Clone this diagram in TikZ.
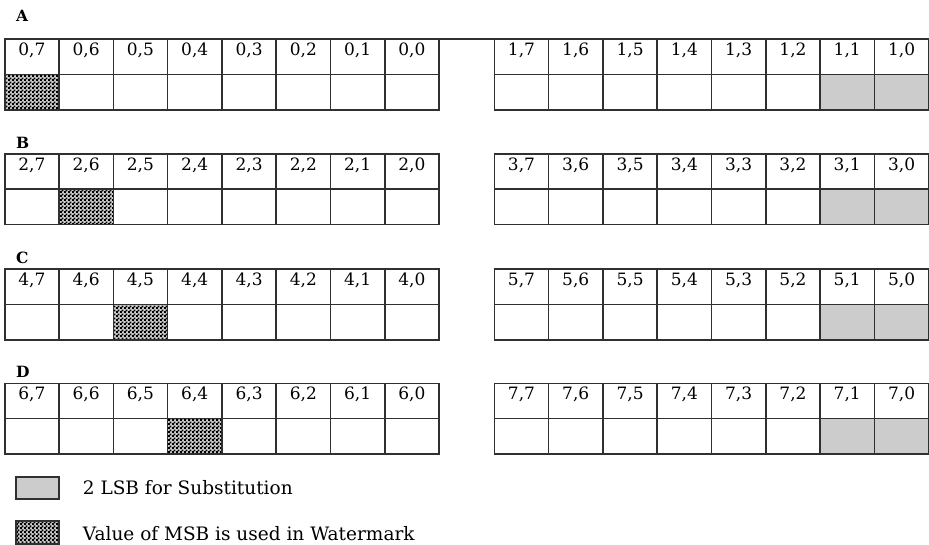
\documentclass[tikz,border=0pt]{standalone}
\usepackage{fontspec}
\setmainfont{DejaVu Serif}
\usetikzlibrary{patterns}
\pgfdeclarepatternformonly{finechecker}{\pgfpointorigin}{\pgfqpoint{4pt}{4pt}}{\pgfqpoint{4pt}{4pt}}{%
  \pgfpathrectangle{\pgfpointorigin}{\pgfqpoint{2.2pt}{2.2pt}}%
  \pgfpathrectangle{\pgfqpoint{2pt}{2pt}}{\pgfqpoint{2.2pt}{2.2pt}}%
  \pgfusepath{fill}}
\definecolor{lsbgray}{HTML}{CCCCCC}
\definecolor{gridline}{HTML}{303030}
\tikzset{
  cell/.style={draw=gridline, line width=1.6pt, minimum width=54.3pt, minimum height=35.3pt,
    inner sep=0pt, outer sep=0pt, anchor=north west},
  lsb/.style={fill=lsbgray},
  msb/.style={preaction={fill=black!20}, pattern=finechecker, pattern color=black},
  bitnum/.style={font=\fontsize{17}{17}\selectfont, anchor=base, inner sep=0pt},
  rowlabel/.style={font=\bfseries\fontsize{15.5}{15.5}\selectfont, anchor=base west, inner sep=0pt},
  legendtext/.style={font=\fontsize{18.5}{18.5}\selectfont, anchor=base west, inner sep=0pt},
  legendbox/.style={draw=gridline, line width=1.6pt, minimum width=43pt, minimum height=22.5pt,
    inner sep=0pt, outer sep=0pt, anchor=north west}
}
\begin{document}
\begin{tikzpicture}[x=1pt,y=-1pt]
\useasboundingbox (0,0) rectangle (929,545);
% rows: index r, top y, row label
\foreach \r/\ty/\lab/\ly in {0/39.3/A/22, 1/154/B/148.3, 2/269.3/C/264, 3/383.3/D/377.7} {
  \node[rowlabel] (lab\r) at (16,\ly) {\lab};
  \pgfmathtruncatemacro{\lr}{2*\r}
  \pgfmathtruncatemacro{\rr}{2*\r+1}
  \foreach \k in {0,...,7} {
    \pgfmathtruncatemacro{\bit}{7-\k}
    % left block
    \node[cell] (tL\r\k) at ({4.7+54.3*\k},\ty) {};
    \ifnum\k=\r
      \node[cell,msb] (bL\r\k) at ({4.7+54.3*\k},\ty+35.3) {};
    \else
      \node[cell] (bL\r\k) at ({4.7+54.3*\k},\ty+35.3) {};
    \fi
    \node[bitnum] (nL\r\k) at ([yshift=-16.6pt]tL\r\k.north) {\lr,\bit};
    % right block
    \node[cell] (tR\r\k) at ({494.3+54.3*\k},\ty) {};
    \ifnum\k>5
      \node[cell,lsb] (bR\r\k) at ({494.3+54.3*\k},\ty+35.3) {};
    \else
      \node[cell] (bR\r\k) at ({494.3+54.3*\k},\ty+35.3) {};
    \fi
    \node[bitnum] (nR\r\k) at ([yshift=-16.6pt]tR\r\k.north) {\rr,\bit};
  }
}
% joining top line of row A
\draw[draw=gridline, line width=1.6pt] (tL07.north east) -- (tR00.north west);
% legend
\node[legendbox,lsb] (leg1) at (16,476.7) {};
\node[legendtext] (legt1) at (82.7,494.3) {2 LSB for Substitution};
\node[legendbox,msb] (leg2) at (16,521.2) {};
\node[legendtext] (legt2) at (82.7,540) {Value of MSB is used in Watermark};
\end{tikzpicture}
\end{document}
